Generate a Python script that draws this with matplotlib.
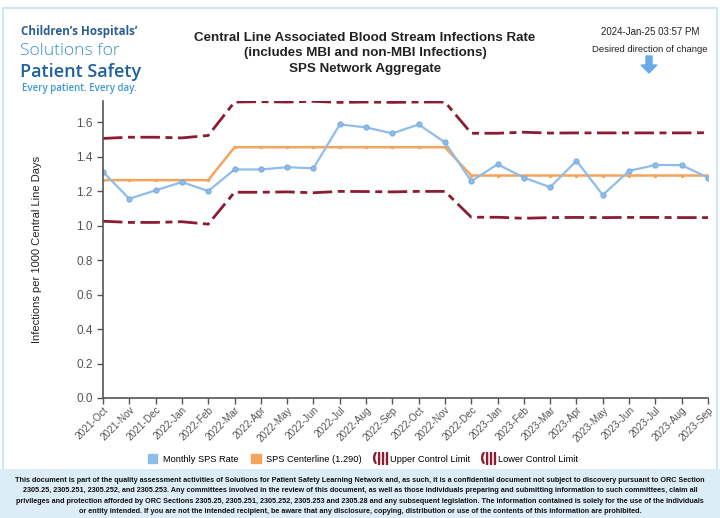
import matplotlib.pyplot as plt
from matplotlib.patches import Rectangle, Patch, FancyArrow
from matplotlib.lines import Line2D

plt.rcParams["font.family"] = ["Liberation Sans", "DejaVu Sans"]

# місяці
months = ["2021-Oct", "2021-Nov", "2021-Dec", "2022-Jan", "2022-Feb", "2022-Mar", "2022-Apr",
          "2022-May", "2022-Jun", "2022-Jul", "2022-Aug", "2022-Sep", "2022-Oct", "2022-Nov",
          "2022-Dec", "2023-Jan", "2023-Feb", "2023-Mar", "2023-Apr", "2023-May", "2023-Jun",
          "2023-Jul", "2023-Aug", "2023-Sep"]

rate = [1.311, 1.155, 1.204, 1.252, 1.200, 1.325, 1.325, 1.338, 1.332, 1.586, 1.569, 1.534,
        1.586, 1.482, 1.257, 1.355, 1.278, 1.222, 1.375, 1.177, 1.317, 1.351, 1.350, 1.278]

centerline = [1.263] * 5 + [1.454] * 9 + [1.290] * 10

ucl = [1.505, 1.512, 1.512, 1.508, 1.522,
       1.716, 1.718, 1.716, 1.720, 1.714, 1.716, 1.714, 1.716, 1.716,
       1.535, 1.535, 1.541, 1.536, 1.537, 1.537, 1.537, 1.537, 1.537, 1.538]

lcl = [1.025, 1.018, 1.018, 1.022, 1.008,
       1.193, 1.193, 1.195, 1.190, 1.198, 1.197, 1.195, 1.198, 1.198,
       1.048, 1.048, 1.042, 1.046, 1.047, 1.046, 1.047, 1.047, 1.046, 1.046]

yticks = [0.0, 0.2, 0.4, 0.6, 0.8, 1.0, 1.2, 1.4, 1.6]

W, H = 720, 518
fig = plt.figure(figsize=(7.2, 5.18), dpi=100)

# рамка та нижній блок
fig.patches.append(Rectangle((3 / W, 1 - 471 / H), 714 / W, 463 / H, transform=fig.transFigure,
                             fill=False, edgecolor="#cfe6f3", linewidth=1.5))
fig.patches.append(Rectangle((0, 0), 1, 1 - 469 / H, transform=fig.transFigure,
                             facecolor="#dcedf7", edgecolor="none"))

ax = fig.add_axes([103 / W, 1 - 398 / H, 605 / W, 297 / H])
x = list(range(len(months)))

dark_red = "#8b1c34"
ax.plot(x, ucl, color=dark_red, linewidth=2, dashes=(7, 2, 2.5, 2))
ax.plot(x, lcl, color=dark_red, linewidth=2, dashes=(7, 2, 2.5, 2))
ax.plot(x, centerline, color="#f5a45e", linewidth=1.8, marker="o", markersize=1.5)
ax.plot(x, rate, color="#8fbde9", linewidth=1.6, marker="o", markersize=3.5,
        markerfacecolor="#8fbde9", markeredgecolor="#7fb0e0")

ax.set_xlim(0, len(months) - 1)
ax.set_ylim(0, 1.722)
ax.set_yticks(yticks)
ax.set_yticklabels([f"{v:.1f}" for v in yticks], fontsize=8.5, color="#333333")
ax.set_xticks(x)
ax.set_xticklabels(months, rotation=45, ha="right", rotation_mode="anchor", fontsize=7.2,
                   color="#333333")
for s in ["top", "right"]:
    ax.spines[s].set_visible(False)
for s in ["left", "bottom"]:
    ax.spines[s].set_color("#555555")
    ax.spines[s].set_linewidth(1.2)
ax.tick_params(colors="#555555", length=4, width=1)
ax.tick_params(axis="x", pad=1)
ax.set_ylabel("Infections per 1000 Central Line Days", fontsize=8, color="#222222")
ax.yaxis.set_label_coords(-0.10, 0.5)

# заголовок
fig.text(365 / W, 1 - 38 / H, "Central Line Associated Blood Stream Infections Rate",
         ha="center", va="center", fontsize=9.6, fontweight="bold", color="#222222")
fig.text(365 / W, 1 - 53 / H, "(includes MBI and non-MBI Infections)",
         ha="center", va="center", fontsize=9.6, fontweight="bold", color="#222222")
fig.text(365 / W, 1 - 69 / H, "SPS Network Aggregate",
         ha="center", va="center", fontsize=9.6, fontweight="bold", color="#222222")

# логотип
logo = ["Open Sans", "DejaVu Sans"]
fig.text(21 / W, 1 - 31 / H, "Children\u2019s Hospitals\u2019", fontsize=8.4, fontweight="bold",
         color="#2b5f93", va="center", family=logo)
fig.text(20 / W, 1 - 51 / H, "Solutions for", fontsize=12.6, fontweight="light",
         color="#3a92cc", va="center", family=logo)
fig.text(20 / W, 1 - 72 / H, "Patient Safety", fontsize=13, fontweight="semibold",
         color="#1f619c", va="center", family=logo)
fig.text(22 / W, 1 - 88 / H, "Every patient. Every day.", fontsize=7.0, color="#3a9ad0",
         va="center", family=logo, fontweight="semibold")

# дата та напрямок
fig.text(650 / W, 1 - 32 / H, "2024-Jan-25 03:57 PM", fontsize=7.0, ha="center",
         va="center", color="#222222")
fig.text(650 / W, 1 - 49 / H, "Desired direction of change", fontsize=6.8, ha="center",
         va="center", color="#222222")
fig.patches.append(FancyArrow(649 / W, 1 - 56 / H, 0, -17 / H, width=6 / W,
                              head_width=16 / W, head_length=8 / H, length_includes_head=True,
                              transform=fig.transFigure, color="#6aaae6"))

# легенда
handles = [Patch(facecolor="#8fbde9", edgecolor="#8fbde9"),
           Patch(facecolor="#f5a45e", edgecolor="#f5a45e"),
           Line2D([], [], linestyle="none", marker="$(|||$", color=dark_red, markersize=10),
           Line2D([], [], linestyle="none", marker="$(|||$", color=dark_red, markersize=10)]
labels = ["Monthly SPS Rate", "SPS Centerline (1.290)", "Upper Control Limit",
          "Lower Control Limit"]
fig.legend(handles, labels, loc="center", bbox_to_anchor=(363 / W, 1 - 459 / H), ncol=4,
           frameon=False, fontsize=6.7, handlelength=1.0, handleheight=1.0,
           handletextpad=0.6, columnspacing=1.4)

footer = ("This document is part of the quality assessment activities of Solutions for Patient Safety Learning Network and, as such, it is a confidential document not subject to discovery pursuant to ORC Section\n"
          "2305.25, 2305.251, 2305.252, and 2305.253. Any committees involved in the review of this document, as well as those individuals preparing and submitting information to such committees, claim all\n"
          "privileges and protection afforded by ORC Sections 2305.25, 2305.251, 2305.252, 2305.253 and 2305.28 and any subsequent legislation. The information contained is solely for the use of the individuals\n"
          "or entity intended. If you are not the intended recipient, be aware that any disclosure, copying, distribution or use of the contents of this information are prohibited.")
fig.text(0.5, 1 - 496 / H, footer, ha="center", va="center", fontsize=5.22, fontweight="bold",
         color="#111111", linespacing=1.72)

fig.savefig("out.png", dpi=100)
